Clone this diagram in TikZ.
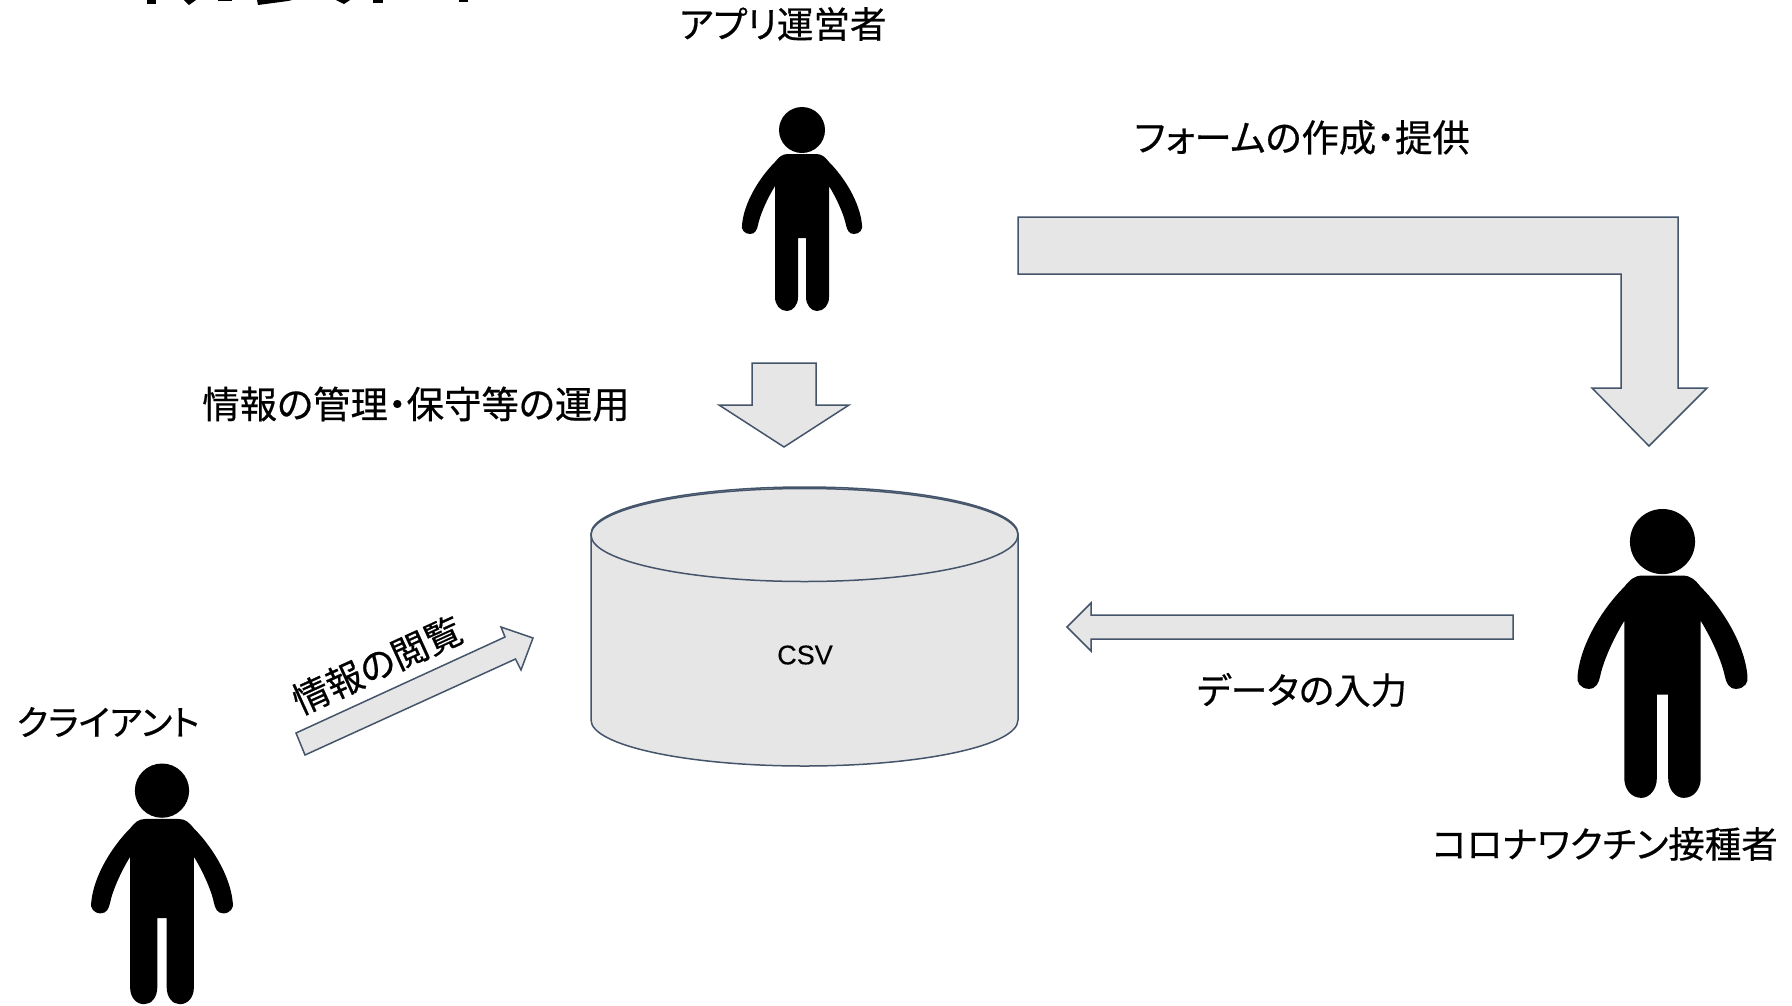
\documentclass[tikz,border=0pt]{standalone}
\usepackage{fontspec}
\setmainfont{Liberation Sans}[FakeBold=0.3]
\newfontfamily\jpfont[RawFeature=+palt,FakeBold=0.5]{Noto Sans CJK JP}
\definecolor{edgeblue}{HTML}{44546A}
\definecolor{shapegrey}{HTML}{E6E6E6}
\tikzset{
  x=1pt,y=-1pt,
  shapeline/.style={draw=edgeblue,fill=shapegrey,line width=1.5pt,line join=miter},
  jp/.style={font=\jpfont\fontsize{36.5}{40}\selectfont,inner sep=0pt,text=black},
  jpwide/.style={font=\jpfont\fontsize{37.4}{40}\selectfont,inner sep=0pt,text=black},
  jpnarrow/.style={font=\jpfont\fontsize{35.2}{40}\selectfont,inner sep=0pt,text=black},
  pics/person/.style={code={
    \fill[black] (0,23) ellipse [x radius=23,y radius=23];
    \fill[black]
      (-14,47)
      .. controls (-20,47) and (-23,50) .. (-27,55)
      .. controls (-42,70) and (-58,95) .. (-60,118)
      .. controls (-61,122) and (-58,127) .. (-52,127)
      .. controls (-47,127) and (-45,123) .. (-44,118)
      .. controls (-42,108) and (-35,92) .. (-27,79)
      -- (-27,190)
      .. controls (-27,198) and (-22,204) .. (-15,204)
      .. controls (-9,204) and (-4,198) .. (-4,190)
      -- (-4,131) -- (4,131) -- (4,190)
      .. controls (4,198) and (9,204) .. (15,204)
      .. controls (22,204) and (27,198) .. (27,190)
      -- (27,79)
      .. controls (35,92) and (42,108) .. (44,118)
      .. controls (45,123) and (47,127) .. (52,127)
      .. controls (58,127) and (61,122) .. (60,118)
      .. controls (58,95) and (42,70) .. (27,55)
      .. controls (23,50) and (20,47) .. (14,47)
      -- cycle;
  }}
}
\begin{document}
\begin{tikzpicture}
\useasboundingbox (0,0) rectangle (1792,1005);
% remains of a heading cut off by the top edge
\fill[black] (147,0) rectangle (156,4);
\fill[black] (184,0) -- (196,0) -- (189,5) -- cycle;
\fill[black] (218,0) rectangle (232,1);
\fill[black] (257,0) -- (292,0) -- (288,1) -- (258,5) -- cycle;
\fill[black] (336,0) -- (350,0) -- (344,4) -- cycle;
\fill[black] (373,0) rectangle (383,3);
\fill[black] (459,0) rectangle (468,2);
% people
\pic at (802,107) {person};
\pic[scale=1.18] at (162,763.5) {person};
\pic[scale=1.416] at (1662.5,509) {person};
% arrows
\draw[shapeline] (752,363) -- (816,363) -- (816,405) -- (849,405) -- (784,447) -- (719,405) -- (752,405) -- cycle;
\draw[shapeline] (1018,217) -- (1678,217) -- (1678,388) -- (1707,388) -- (1649,446) -- (1592,388) -- (1621,388) -- (1621,274) -- (1018,274) -- cycle;
\draw[shapeline] (1513,615) -- (1091,615) -- (1091,603) -- (1067,627) -- (1091,651) -- (1091,639) -- (1513,639) -- cycle;
\draw[shapeline] (296,733) -- (505,637) -- (501,627) -- (533,638) -- (521,670) -- (515.5,659) -- (305,755) -- cycle;
% cylinder
\draw[shapeline] (591,534) arc [start angle=180,end angle=360,x radius=213.5,y radius=47]
  -- (1018,720) arc [start angle=0,end angle=-180,x radius=213.5,y radius=-46] -- cycle;
\draw[shapeline] (804.5,535) ellipse [x radius=213.5,y radius=46.5];
% labels
\node[jp] (operator) at (783,24) {アプリ運営者};
\node[jpwide] (mgmt) at (416,404) {情報の管理・保守等の運用};
\node[jpwide] (form) at (1302,137.5) {フォームの作成・提供};
\node[jp] (input) at (1302,690) {データの入力};
\node[jp] (vaccinee) at (1605,844) {コロナワクチン接種者};
\node[jpnarrow] (client) at (108,722) {クライアント};
\node[jp,rotate=24.5] (browse) at (377,665) {情報の閲覧};
\node[inner sep=0pt,font=\fontsize{27}{30}\selectfont] (csv) at (805,655) {CSV};
\end{tikzpicture}
\end{document}
